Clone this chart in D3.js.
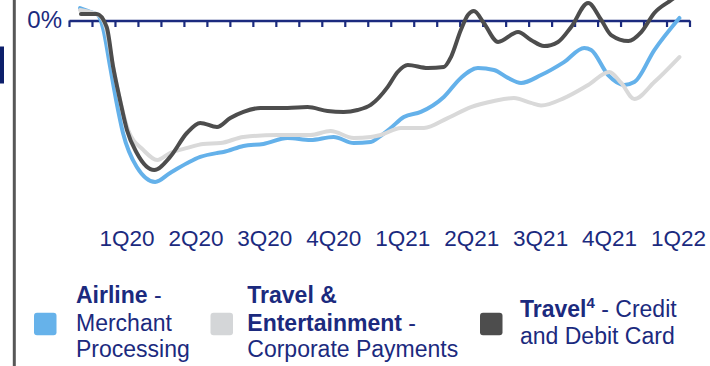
<!DOCTYPE html>
<html>
<head>
<meta charset="utf-8">
<script src="https://cdn.jsdelivr.net/npm/d3@7"></script>
<style>
  html, body { margin: 0; padding: 0; background: #fff; }
  svg { display: block; font-family: "Liberation Sans", Arial, sans-serif; }
</style>
</head>
<body>
<svg id="chart" width="710" height="366"></svg>
<script>
// Spend vs. 2019 baseline (%), indexed by month since Jan 2020 (0 = start of Jan 2020)
const airline = [
  [0.48, 6.9], [1.05, 4.2], [1.26, 3.1], [1.48, -4.2], [1.79, -25.8], [2.05, -44.2],
  [2.35, -62.5], [2.95, -81.4], [3.75, -89.7], [4.40, -84.7], [5.15, -79.2], [5.71, -75.8],
  [6.45, -73.6], [6.72, -73.1], [7.59, -69.7], [8.46, -68.6], [9.51, -65.3], [10.51, -66.4],
  [11.51, -64.7], [12.39, -68.1], [13.13, -67.5], [13.43, -65.3], [14.0, -59.7], [14.57, -53.6],
  [15.31, -50.8], [16.31, -42.5], [17.05, -31.9], [17.79, -26.4], [18.49, -27.5], [19.10, -31.9],
  [19.67, -34.7], [20.54, -30.3], [21.54, -23.1], [22.42, -15.3], [22.72, -16.4], [23.46, -30.3],
  [24.16, -35.8], [24.60, -34.2], [25.47, -16.4], [26.56, 1.4]
];
const travelEntertainment = [
  [0.48, 5.8], [1.05, 4.2], [1.35, 2.5], [1.61, -4.2], [1.92, -25.8], [2.22, -44.2],
  [2.57, -60.8], [3.23, -71.9], [3.84, -77.5], [4.40, -73.6], [5.15, -70.8], [5.84, -68.6],
  [6.59, -68.1], [7.59, -64.7], [9.07, -63.6], [10.51, -63.6], [11.38, -61.4], [12.39, -65.3],
  [13.13, -64.7], [13.56, -63.6], [14.44, -59.7], [15.44, -59.7], [16.48, -54.2], [17.49, -48.1],
  [18.49, -44.7], [19.36, -43.1], [20.10, -45.8], [20.54, -47.2], [21.54, -43.1], [22.59, -35.8],
  [23.51, -28.6], [24.03, -34.7], [24.60, -43.6], [25.47, -34.2], [26.56, -20.3]
];
const travelCard = [
  [0.52, 3.6], [1.21, 3.6], [1.64, -3.6], [1.92, -25.8], [2.22, -44.2], [2.52, -60.8],
  [2.95, -73.6], [3.71, -83.1], [4.40, -75.8], [5.13, -62.5], [5.71, -56.9], [6.44, -59.2],
  [7.02, -54.2], [7.59, -50.8], [8.33, -48.6], [9.51, -48.6], [10.38, -48.1], [11.25, -50.3],
  [11.95, -50.8], [12.56, -49.7], [13.13, -46.9], [13.87, -36.9], [14.30, -28.6], [14.74, -24.7],
  [15.61, -26.4], [16.31, -25.8], [16.62, -20.3], [17.05, -5.3], [17.36, 3.1], [17.62, 5.3],
  [18.05, -1.4], [18.67, -11.9], [19.54, -6.4], [20.10, -10.8], [20.67, -14.2], [21.28, -11.9],
  [21.85, -3.6], [22.59, 9.7], [23.16, 0.3], [23.59, -8.1], [24.34, -11.4], [24.90, -6.4],
  [25.47, 4.2], [26.21, 11.4], [26.56, 14.7]
];

const quarterLabels = ["1Q20", "2Q20", "3Q20", "4Q20", "1Q21", "2Q21", "3Q21", "4Q21", "1Q22"];
const quarterCenters = [2.5, 5.5, 8.5, 11.5, 14.5, 17.5, 20.5, 23.5, 26.5];
const monthTicks = d3.range(0, 28);

const navy = "#1b2a7e";
const colors = { airline: "#64b1ea", te: "#d9d9d9", card: "#4d4d4d" };

const svg = d3.select("#chart");

// page furniture on the left edge
svg.append("rect").attr("x", 0).attr("y", 46.5).attr("width", 4).attr("height", 37).attr("fill", "#0d1f6b");
svg.append("line").attr("x1", 14.3).attr("x2", 14.3).attr("y1", 0).attr("y2", 366)
  .attr("stroke", "#575757").attr("stroke-width", 3);

const x = d3.scaleLinear().domain([0, 27]).range([69, 689.5]);
const y = d3.scaleLinear().domain([0, -100]).range([20.5, 200.5]);

// zero line with monthly ticks
const zeroAxis = svg.append("g")
  .attr("transform", `translate(0,${y(0)})`)
  .call(d3.axisBottom(x).tickValues(monthTicks).tickSize(6.5).tickSizeOuter(0).tickFormat(""));
zeroAxis.select(".domain").attr("stroke", navy).attr("stroke-width", 2.6);
zeroAxis.selectAll(".tick line").attr("stroke", navy).attr("stroke-width", 2.2);

svg.append("text")
  .attr("x", 62).attr("y", 28.3)
  .attr("text-anchor", "end")
  .attr("font-size", 24)
  .attr("fill", navy)
  .text("0%");

// quarter labels
const qAxis = svg.append("g")
  .attr("transform", "translate(0,246)")
  .call(d3.axisBottom(x).tickValues(quarterCenters).tickSize(0).tickPadding(0)
    .tickFormat((d, i) => quarterLabels[i]));
qAxis.select(".domain").remove();
qAxis.selectAll("text")
  .attr("dy", 0)
  .attr("y", 0)
  .attr("font-size", 22.5)
  .attr("font-family", "\"Liberation Sans\", Arial, sans-serif")
  .attr("fill", navy);

// series lines
const line = d3.line()
  .x(d => x(d[0]))
  .y(d => y(d[1]))
  .curve(d3.curveMonotoneX);

[[airline, colors.airline], [travelEntertainment, colors.te], [travelCard, colors.card]]
  .forEach(([data, color]) => {
    svg.append("path")
      .datum(data)
      .attr("d", line)
      .attr("fill", "none")
      .attr("stroke", color)
      .attr("stroke-width", 4)
      .attr("stroke-linejoin", "round")
      .attr("stroke-linecap", "round");
  });

// legend
const legend = svg.append("g").attr("fill", navy).attr("font-size", 23);

function swatch(x0, color) {
  legend.append("rect")
    .attr("x", x0).attr("y", 312.7).attr("width", 22.5).attr("height", 22.5)
    .attr("rx", 3).attr("fill", color);
}

swatch(34, "#66b2ea");
swatch(210.5, "#d4d6d8");
swatch(480, "#4d4d4d");

function textLine(x0, y0, parts) {
  const t = legend.append("text").attr("x", x0).attr("y", y0);
  parts.forEach(p => {
    const s = t.append("tspan").text(p.text);
    if (p.bold) s.attr("font-weight", "bold");
    if (p.sup) s.attr("font-size", 15).attr("dy", -9);
    if (p.down) s.attr("dy", 9);
  });
}

textLine(76, 303, [{ text: "Airline", bold: true }, { text: " -" }]);
textLine(76, 330.5, [{ text: "Merchant" }]);
textLine(76, 357, [{ text: "Processing" }]);

textLine(247.3, 303, [{ text: "Travel &", bold: true }]);
textLine(247.3, 330.5, [{ text: "Entertainment", bold: true }, { text: " -" }]);
textLine(247.3, 357, [{ text: "Corporate Payments" }]);

textLine(520, 316.7, [
  { text: "Travel", bold: true },
  { text: "4", bold: true, sup: true },
  { text: " - Credit", down: true }
]);
textLine(520, 344, [{ text: "and Debit Card" }]);
</script>
</body>
</html>
